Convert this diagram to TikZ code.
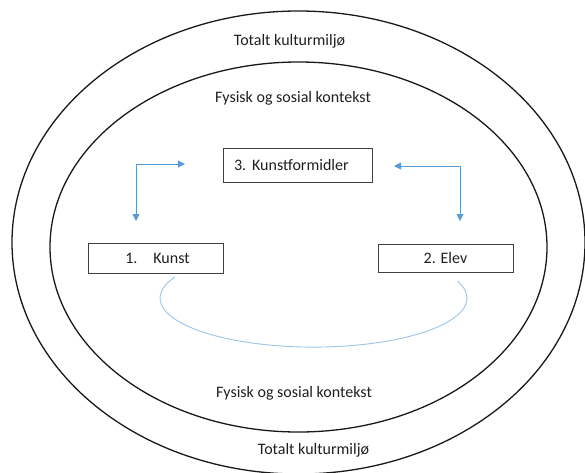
\documentclass[tikz,border=0pt]{standalone}
\usepackage{fontspec}
\setmainfont{Carlito}
\usetikzlibrary{arrows.meta}
\definecolor{arrowblue}{HTML}{5B9BD5}
\definecolor{arcblue}{HTML}{9DC3E6}
\definecolor{boxgray}{HTML}{404040}
\begin{document}
\begin{tikzpicture}[x=1pt,y=-1pt,
  txt/.style={font=\fontsize{16}{19}\selectfont, text=black!88, inner sep=0pt},
  ring/.style={draw=black!90, line width=1.3pt},
  boxnode/.style={draw=boxgray, line width=0.9pt, font=\fontsize{16}{19}\selectfont, text=black!88, inner sep=0pt},
  link/.style={draw=arrowblue, line width=0.9pt, {Triangle[length=7pt,width=7pt]}-{Triangle[length=7pt,width=7pt]}},
  loopline/.style={draw=arcblue, line width=0.9pt}
]
\useasboundingbox (0,0) rectangle (585,472);
% rings
\draw[ring] (298.5,242.5) ellipse [x radius=286.5, y radius=231.5];
\draw[ring] (298.5,247) ellipse [x radius=248.5, y radius=185];
% ring labels
\node[txt] (tkTop) at (289.5,41) {Totalt kulturmiljø};
\node[txt] (fsTop) at (293,98) {Fysisk og sosial kontekst};
\node[txt] (fsBot) at (294,393) {Fysisk og sosial kontekst};
\node[txt] (tkBot) at (313.5,450) {Totalt kulturmiljø};
% boxes
\node[boxnode, minimum width=149pt, minimum height=34pt, text width=127pt, inner xsep=11pt, align=left] (formidler) at (297.5,165) {3.\hspace{6pt}Kunstformidler};
\node[boxnode, minimum width=135pt, minimum height=30pt] (kunst) at (155.5,258) {\hspace{4pt}1.\hspace{16pt}Kunst};
\node[boxnode, minimum width=135pt, minimum height=28pt] (elev) at (445.5,258) {2. Elev};
% arrows
\coordinate (lTipH) at (185,164);
\coordinate (lTipV) at (136,221);
\coordinate (rTipH) at (394,166);
\coordinate (rTipV) at (460,221);
\draw[link] (lTipH) -| (lTipV);
\draw[link] (rTipH) -| (rTipV);
% loop under the boxes
\coordinate (loopStart) at (175,277);
\draw[loopline] (loopStart) arc [start angle=205.5, end angle=-20.4, x radius=153.5, y radius=49];
\end{tikzpicture}
\end{document}
